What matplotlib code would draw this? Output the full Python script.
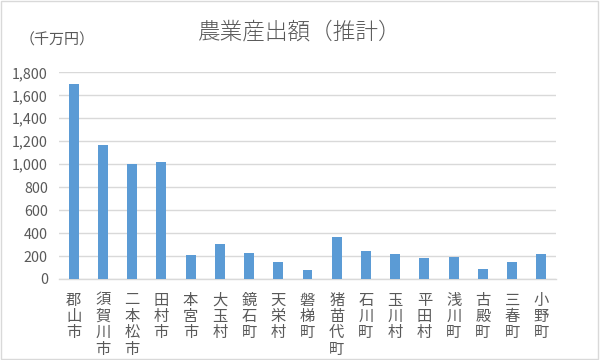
import matplotlib.pyplot as plt
import numpy as np
from matplotlib.patches import Rectangle

plt.rcParams['font.family'] = ['Noto Sans CJK JP', 'DejaVu Sans']

towns = ['郡山市', '須賀川市', '二本松市', '田村市', '本宮市', '大玉村', '鏡石町',
         '天栄村', '磐梯町', '猪苗代町', '石川町', '玉川村', '平田村', '浅川町',
         '古殿町', '三春町', '小野町']
output = [1700, 1165, 1006, 1015, 209, 307, 223, 145, 78, 365, 241, 217,
          185, 191, 84, 150, 217]
yticks = [0, 200, 400, 600, 800, 1000, 1200, 1400, 1600, 1800]

txt = '#595959'
grid = '#D9D9D9'

fig = plt.figure(figsize=(6, 3.6), dpi=100)
ax = fig.add_axes([0.0983, 0.225, 0.8284, 0.574])

x = np.arange(len(towns))
ax.bar(x, output, width=0.34, color='#5B9BD5', zorder=3)

ax.set_xlim(-0.5, len(towns) - 0.5)
ax.set_ylim(0, 1800)
ax.set_yticks(yticks)
ax.set_yticklabels([f'{v:,}' for v in yticks], fontsize=10.3, color=txt)
ax.set_xticks(x)
ax.set_xticklabels(['\n'.join(t) for t in towns], fontsize=11, color=txt,
                   linespacing=0.95, va='top')
ax.tick_params(axis='both', length=0)
ax.tick_params(axis='x', pad=9)
ax.tick_params(axis='y', pad=8)
ax.grid(axis='y', color=grid, linewidth=1, zorder=0)
for s in ['top', 'right', 'left']:
    ax.spines[s].set_visible(False)
ax.spines['bottom'].set_color(grid)
ax.spines['bottom'].set_linewidth(1)

fig.text(0.5, 0.912, '農業産出額（推計）', ha='center', va='center',
         fontsize=16.3, color=txt, fontweight='light')
fig.text(0.033, 0.889, '（千万円）', ha='left', va='center', fontsize=10.8,
         color=txt)

fig.patches.append(Rectangle((0.002, 0.003), 0.995, 0.993, transform=fig.transFigure,
                             fill=False, edgecolor='#D9D9D9', linewidth=1))

fig.savefig('out.png', dpi=100)
